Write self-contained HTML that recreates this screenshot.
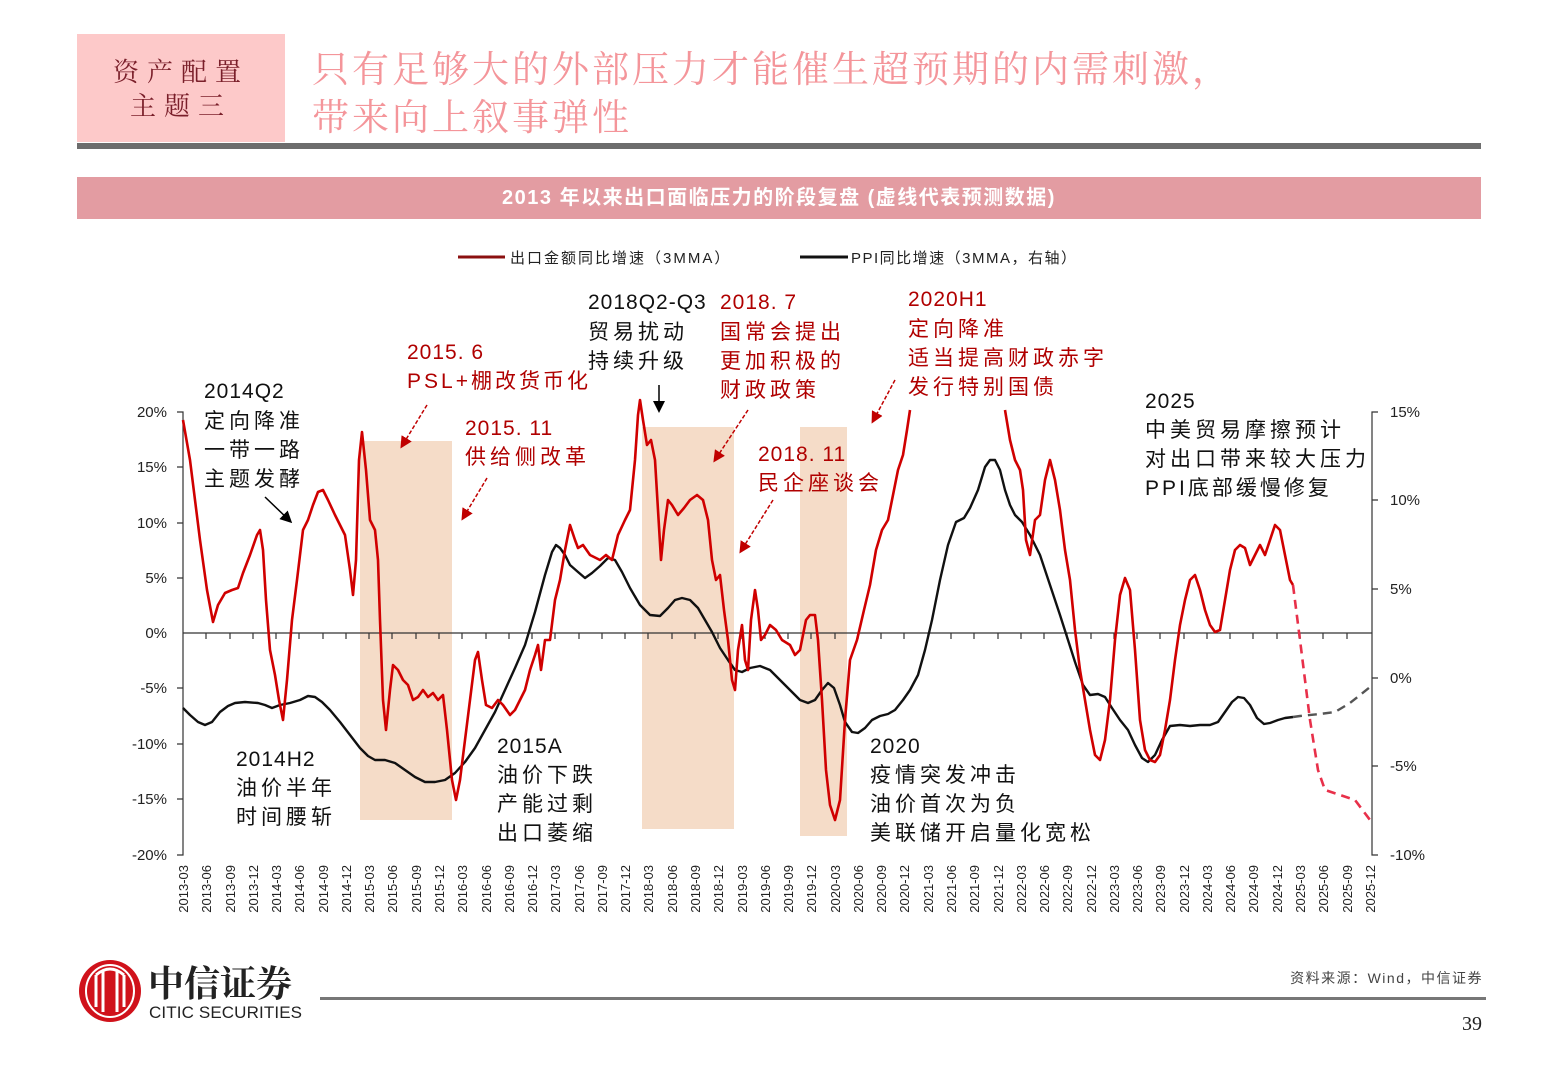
<!DOCTYPE html>
<html><head><meta charset="utf-8"><style>
body{margin:0;width:1560px;height:1080px;background:#fff;position:relative;overflow:hidden;font-family:"Liberation Sans","Noto Sans CJK SC",sans-serif}
.a{position:absolute}
</style></head><body>
<div class="a" style="left:77px;top:34px;width:208px;height:108px;background:#fdc9c9"></div>
<div class="a" style="left:77px;top:54px;width:208px;text-align:center;font-family:'Noto Serif CJK SC',serif;color:#7a1f2a;font-size:26px;line-height:34px;letter-spacing:8px">资产配置<br>主题三</div>
<div class="a" style="left:312px;top:42px;font-family:'Noto Serif CJK SC',serif;color:#f4959a;font-size:37px;line-height:48px;letter-spacing:3px">只有足够大的外部压力才能催生超预期的内需刺激，<br>带来向上叙事弹性</div>
<div class="a" style="left:77px;top:143px;width:1404px;height:6px;background:#6d6d6d"></div>
<div class="a" style="left:77px;top:177px;width:1404px;height:42px;background:#e39ca2;color:#fff;font-weight:bold;font-size:20px;line-height:42px;text-align:center;letter-spacing:1.5px">2013 年以来出口面临压力的阶段复盘 (虚线代表预测数据)</div>

<svg class="a" style="left:0;top:0" width="1560" height="1080" font-family="Liberation Sans,Noto Sans CJK SC,sans-serif">
<defs><marker id="ar" markerWidth="8" markerHeight="8" refX="6" refY="4" orient="auto"><path d="M0,0L8,4L0,8z" fill="#000"/></marker>
<marker id="rr" markerWidth="8" markerHeight="8" refX="6" refY="4" orient="auto"><path d="M0,0L8,4L0,8z" fill="#c00000"/></marker></defs>
<!-- legend -->
<line x1="458" y1="257" x2="505" y2="257" stroke="#8b1010" stroke-width="3"/>
<text x="510" y="263" font-size="15" fill="#222" letter-spacing="2">出口金额同比增速（3MMA）</text>
<line x1="800" y1="257" x2="848" y2="257" stroke="#111" stroke-width="3"/>
<text x="851" y="263" font-size="15" fill="#222" letter-spacing="1.5">PPI同比增速（3MMA，右轴）</text>
<!-- shaded -->
<rect x="360" y="441" width="92" height="379" fill="#f5dcc8"/>
<rect x="642" y="427" width="92" height="402" fill="#f5dcc8"/>
<rect x="800" y="427" width="47" height="409" fill="#f5dcc8"/>
<!-- axes -->
<g stroke="#333" stroke-width="1.2" fill="none">
<path d="M177,412H183V855H177M177,467H183M177,523H183M177,578H183M177,688H183M177,744H183M177,799H183"/>
<path d="M1378,412H1372V855H1378M1372,500H1378M1372,589H1378M1372,678H1378M1372,766H1378"/>
<line x1="183" y1="633" x2="1372" y2="633"/>
<path d="M206,633v6M230,633v6M253,633v6M276,633v6M299,633v6M323,633v6M346,633v6M369,633v6M392,633v6M416,633v6M439,633v6M462,633v6M486,633v6M509,633v6M532,633v6M555,633v6M579,633v6M602,633v6M625,633v6M648,633v6M672,633v6M695,633v6M718,633v6M742,633v6M765,633v6M788,633v6M811,633v6M835,633v6M858,633v6M881,633v6M904,633v6M928,633v6M951,633v6M974,633v6M998,633v6M1021,633v6M1044,633v6M1067,633v6M1091,633v6M1114,633v6M1137,633v6M1160,633v6M1184,633v6M1207,633v6M1230,633v6M1253,633v6M1277,633v6M1300,633v6M1323,633v6M1347,633v6"/>
</g>
<g font-size="15" fill="#222" text-anchor="end">
<text x="167" y="417">20%</text><text x="167" y="472">15%</text><text x="167" y="528">10%</text><text x="167" y="583">5%</text><text x="167" y="638">0%</text><text x="167" y="693">-5%</text><text x="167" y="749">-10%</text><text x="167" y="804">-15%</text><text x="167" y="860">-20%</text>
</g>
<g font-size="15" fill="#222">
<text x="1390" y="417">15%</text><text x="1390" y="505">10%</text><text x="1390" y="594">5%</text><text x="1390" y="683">0%</text><text x="1390" y="771">-5%</text><text x="1390" y="860">-10%</text>
</g>
<g font-size="13" fill="#222" text-anchor="end">
<text transform="translate(188,865) rotate(-90)">2013-03</text><text transform="translate(211,865) rotate(-90)">2013-06</text><text transform="translate(235,865) rotate(-90)">2013-09</text><text transform="translate(258,865) rotate(-90)">2013-12</text><text transform="translate(281,865) rotate(-90)">2014-03</text><text transform="translate(304,865) rotate(-90)">2014-06</text><text transform="translate(328,865) rotate(-90)">2014-09</text><text transform="translate(351,865) rotate(-90)">2014-12</text><text transform="translate(374,865) rotate(-90)">2015-03</text><text transform="translate(397,865) rotate(-90)">2015-06</text><text transform="translate(421,865) rotate(-90)">2015-09</text><text transform="translate(444,865) rotate(-90)">2015-12</text><text transform="translate(467,865) rotate(-90)">2016-03</text><text transform="translate(491,865) rotate(-90)">2016-06</text><text transform="translate(514,865) rotate(-90)">2016-09</text><text transform="translate(537,865) rotate(-90)">2016-12</text><text transform="translate(560,865) rotate(-90)">2017-03</text><text transform="translate(584,865) rotate(-90)">2017-06</text><text transform="translate(607,865) rotate(-90)">2017-09</text><text transform="translate(630,865) rotate(-90)">2017-12</text><text transform="translate(653,865) rotate(-90)">2018-03</text><text transform="translate(677,865) rotate(-90)">2018-06</text><text transform="translate(700,865) rotate(-90)">2018-09</text><text transform="translate(723,865) rotate(-90)">2018-12</text><text transform="translate(747,865) rotate(-90)">2019-03</text><text transform="translate(770,865) rotate(-90)">2019-06</text><text transform="translate(793,865) rotate(-90)">2019-09</text><text transform="translate(816,865) rotate(-90)">2019-12</text><text transform="translate(840,865) rotate(-90)">2020-03</text><text transform="translate(863,865) rotate(-90)">2020-06</text><text transform="translate(886,865) rotate(-90)">2020-09</text><text transform="translate(909,865) rotate(-90)">2020-12</text><text transform="translate(933,865) rotate(-90)">2021-03</text><text transform="translate(956,865) rotate(-90)">2021-06</text><text transform="translate(979,865) rotate(-90)">2021-09</text><text transform="translate(1003,865) rotate(-90)">2021-12</text><text transform="translate(1026,865) rotate(-90)">2022-03</text><text transform="translate(1049,865) rotate(-90)">2022-06</text><text transform="translate(1072,865) rotate(-90)">2022-09</text><text transform="translate(1096,865) rotate(-90)">2022-12</text><text transform="translate(1119,865) rotate(-90)">2023-03</text><text transform="translate(1142,865) rotate(-90)">2023-06</text><text transform="translate(1165,865) rotate(-90)">2023-09</text><text transform="translate(1189,865) rotate(-90)">2023-12</text><text transform="translate(1212,865) rotate(-90)">2024-03</text><text transform="translate(1235,865) rotate(-90)">2024-06</text><text transform="translate(1258,865) rotate(-90)">2024-09</text><text transform="translate(1282,865) rotate(-90)">2024-12</text><text transform="translate(1305,865) rotate(-90)">2025-03</text><text transform="translate(1328,865) rotate(-90)">2025-06</text><text transform="translate(1352,865) rotate(-90)">2025-09</text><text transform="translate(1375,865) rotate(-90)">2025-12</text>
</g>
<!-- PPI -->
<polyline fill="none" stroke="#111" stroke-width="2.4" stroke-linejoin="round" points="183,708 190,715 198,722 205,725 212,722 220,712 228,706 235,703 245,702 258,703 265,705 272,708 280,705 290,703 300,700 308,696 315,697 322,702 330,710 340,722 350,735 360,748 368,756 375,760 385,760 395,763 405,770 415,777 425,782 435,782 445,780 455,773 465,762 475,748 485,730 495,712 505,690 515,668 525,645 535,612 545,575 552,552 556,545 560,548 565,555 570,565 578,572 585,578 592,573 600,566 608,558 615,560 622,572 630,588 640,605 650,615 660,616 668,608 675,600 682,598 690,600 698,608 705,620 712,632 720,648 728,660 735,670 742,672 750,668 760,666 770,670 780,680 790,690 800,700 808,703 815,700 822,690 828,683 834,688 840,705 845,722 852,732 858,733 865,728 872,720 880,716 888,714 895,710 903,700 910,690 918,675 925,650 932,620 940,580 948,545 956,522 964,518 970,508 978,490 985,467 990,460 995,460 1000,470 1005,490 1010,505 1015,515 1022,522 1030,535 1040,555 1050,585 1060,615 1068,640 1075,662 1083,685 1090,695 1098,694 1105,697 1112,708 1120,720 1128,730 1135,745 1142,758 1148,762 1155,755 1162,740 1170,726 1180,725 1190,726 1200,725 1210,725 1218,722 1225,712 1232,702 1238,697 1244,698 1250,705 1257,718 1264,724 1270,723 1278,720 1285,718 1293,717"/>
<polyline fill="none" stroke="#555" stroke-width="2.4" stroke-dasharray="9,6" points="1293,717 1300,716 1320,714 1335,712 1350,703 1360,695 1370,687"/>
<!-- exports -->
<polyline fill="none" stroke="#d00000" stroke-width="2.6" stroke-linejoin="round" points="183,420 190,460 200,540 207,590 213,622 218,605 225,593 232,590 238,588 243,573 250,555 257,535 260,530 263,550 266,600 270,650 275,675 279,700 283,720 287,680 292,620 297,580 303,530 308,520 313,505 318,492 323,490 328,500 335,515 345,535 350,570 353,595 356,560 359,460 362,432 366,470 370,520 375,530 378,560 380,620 383,700 386,730 390,690 393,665 398,670 403,680 408,685 413,700 418,697 423,690 428,697 433,693 438,700 443,695 447,730 452,780 456,800 460,780 465,740 470,700 475,660 478,652 482,680 486,705 492,708 498,700 503,705 510,715 515,710 520,700 525,690 530,670 535,655 538,645 541,670 545,640 550,640 555,600 560,580 565,550 570,525 575,540 578,548 583,545 590,555 600,560 606,555 612,560 618,535 625,520 630,510 635,460 638,415 640,400 643,420 647,445 651,440 655,460 658,510 661,560 664,530 668,500 672,505 678,515 684,508 690,500 697,495 703,500 708,520 712,560 716,580 720,575 724,610 728,640 732,680 735,690 738,650 742,625 745,660 748,670 751,620 755,590 758,610 761,640 765,635 770,625 776,630 782,640 790,645 795,655 800,650 806,620 810,615 815,615 818,640 822,700 826,770 830,805 835,820 840,800 845,720 850,660 857,640 864,610 870,585 876,550 882,530 888,520 893,495 898,470 903,455 907,430 910,410"/>
<polyline fill="none" stroke="#d00000" stroke-width="2.6" stroke-linejoin="round" points="1005,410 1010,440 1015,460 1020,470 1023,490 1026,540 1030,555 1035,520 1040,515 1045,480 1050,460 1055,480 1060,510 1065,550 1070,580 1075,630 1080,670 1085,700 1090,730 1095,755 1100,760 1105,740 1110,700 1115,640 1120,595 1125,578 1130,590 1135,650 1140,720 1145,750 1150,760 1155,762 1160,755 1165,730 1170,700 1175,660 1180,625 1185,600 1190,580 1195,575 1200,590 1205,610 1210,625 1215,632 1220,630 1225,600 1230,570 1235,550 1240,545 1245,548 1250,565 1255,555 1260,545 1265,555 1270,540 1275,525 1280,530 1285,555 1290,580 1293,585"/>
<polyline fill="none" stroke="#e8304a" stroke-width="2.6" stroke-dasharray="9,6" points="1293,585 1300,640 1310,720 1318,770 1325,790 1340,795 1355,800 1370,820"/>
<!-- arrows -->
<g stroke-width="1.5">
<line x1="265" y1="497" x2="290" y2="521" stroke="#000" marker-end="url(#ar)"/>
<line x1="659" y1="385" x2="659" y2="410" stroke="#000" marker-end="url(#ar)"/>
<g stroke="#c00000" stroke-dasharray="4,2">
<line x1="427" y1="405" x2="402" y2="446" marker-end="url(#rr)"/>
<line x1="487" y1="478" x2="463" y2="518" marker-end="url(#rr)"/>
<line x1="748" y1="410" x2="715" y2="460" marker-end="url(#rr)"/>
<line x1="773" y1="500" x2="741" y2="551" marker-end="url(#rr)"/>
<line x1="895" y1="380" x2="873" y2="421" marker-end="url(#rr)"/>
</g></g>
<!-- annotations -->
<g font-size="21" fill="#111" letter-spacing="4">
<text x="204" y="398" letter-spacing="1">2014Q2</text><text x="204" y="428">定向降准</text><text x="204" y="457">一带一路</text><text x="204" y="486">主题发酵</text>
<text x="236" y="766" letter-spacing="1">2014H2</text><text x="236" y="795">油价半年</text><text x="236" y="824">时间腰斩</text>
<text x="497" y="753" letter-spacing="1">2015A</text><text x="497" y="782">油价下跌</text><text x="497" y="811">产能过剩</text><text x="497" y="840">出口萎缩</text>
<text x="588" y="309" letter-spacing="1">2018Q2-Q3</text><text x="588" y="339">贸易扰动</text><text x="588" y="368">持续升级</text>
<text x="870" y="753" letter-spacing="1">2020</text><text x="870" y="782">疫情突发冲击</text><text x="870" y="811">油价首次为负</text><text x="870" y="840">美联储开启量化宽松</text>
<text x="1145" y="408" letter-spacing="1">2025</text><text x="1145" y="437">中美贸易摩擦预计</text><text x="1145" y="466">对出口带来较大压力</text><text x="1145" y="495" letter-spacing="3">PPI底部缓慢修复</text>
</g>
<g font-size="21" fill="#b00000" letter-spacing="4">
<text x="407" y="359" letter-spacing="1">2015. 6</text><text x="407" y="388" letter-spacing="3">PSL+棚改货币化</text>
<text x="465" y="435" letter-spacing="1">2015. 11</text><text x="465" y="464">供给侧改革</text>
<text x="720" y="309" letter-spacing="1">2018. 7</text><text x="720" y="339">国常会提出</text><text x="720" y="368">更加积极的</text><text x="720" y="397">财政政策</text>
<text x="758" y="461" letter-spacing="1">2018. 11</text><text x="758" y="490">民企座谈会</text>
<text x="908" y="306" letter-spacing="1">2020H1</text><text x="908" y="336">定向降准</text><text x="908" y="365">适当提高财政赤字</text><text x="908" y="394">发行特别国债</text>
</g>
<!-- footer -->
<circle cx="110" cy="991" r="31" fill="#d0121b"/>
<ellipse cx="110" cy="991" rx="24" ry="26" fill="none" stroke="#fff" stroke-width="2"/>
<path d="M96,975v32M103,970v42M117,970v42M124,975v32M96,975q14,-12 28,0" stroke="#fff" stroke-width="3" fill="none"/>
<text x="148" y="996" font-size="36" font-weight="bold" fill="#222" font-family="Noto Serif CJK SC,serif">中信证券</text>
<text x="149" y="1018" font-size="17" fill="#222" textLength="153">CITIC SECURITIES</text>
<rect x="320" y="997" width="1166" height="3" fill="#777"/>
<text x="1483" y="983" font-size="14" fill="#444" text-anchor="end" letter-spacing="1.5">资料来源：Wind，中信证券</text>
<text x="1482" y="1030" font-size="20" fill="#222" text-anchor="end" font-family="Liberation Serif,serif">39</text>
</svg>
</body></html>
